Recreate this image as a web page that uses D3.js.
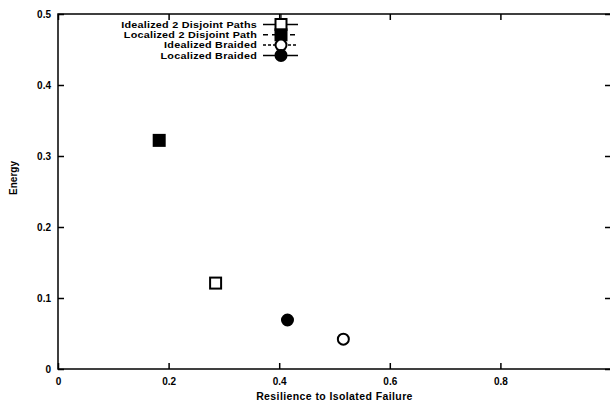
<!DOCTYPE html>
<html>
<head>
<meta charset="utf-8">
<script src="https://cdn.jsdelivr.net/npm/d3@7"></script>
<style>
  body { margin: 0; background: #fff; }
  text { font-family: "Liberation Sans", Arial, sans-serif; font-weight: bold; fill: #000; }
</style>
</head>
<body>
<div id="chart"></div>
<script>
// series, one point each
var seriesNames = ["Idealized 2 Disjoint Paths", "Localized 2 Disjoint Path", "Idealized Braided", "Localized Braided"];
var resilience = [0.285, 0.183, 0.516, 0.415];
var energy = [0.121, 0.322, 0.042, 0.069];
var markerShape = ["square", "square", "circle", "circle"];
var markerFilled = [false, true, false, true];
var lineDash = ["", "5 4", "3 2", ""];

// ticks
var xTicks = [0, 0.2, 0.4, 0.6, 0.8];
var yTicks = [0, 0.1, 0.2, 0.3, 0.4, 0.5];

var width = 610;
var height = 405;
var margin = {left: 58, top: 14, right: -1, bottom: 36};

var svg = d3.select("#chart")
  .append("svg")
    .attr("width", width)
    .attr("height", height);

var x = d3.scaleLinear()
  .domain([0, 1])
  .range([margin.left, width - margin.right]);

var y = d3.scaleLinear()
  .domain([0, 0.5])
  .range([height - margin.bottom, margin.top]);

// frame
svg.append("rect")
  .attr("x", x(0))
  .attr("y", y(0.5))
  .attr("width", x(1) - x(0))
  .attr("height", y(0) - y(0.5))
  .attr("fill", "none")
  .attr("stroke", "#000")
  .attr("stroke-width", 1.5);

// axes with inward ticks, gnuplot style
var xAxis = svg.append("g")
  .attr("transform", "translate(0," + y(0) + ")")
  .call(d3.axisBottom(x).tickValues(xTicks).tickSize(-6).tickPadding(9)
    .tickFormat(function (d) { return d === 0 ? "0" : d3.format(".1f")(d); }));

var yAxis = svg.append("g")
  .attr("transform", "translate(" + x(0) + ",0)")
  .call(d3.axisLeft(y).tickValues(yTicks).tickSize(-6).tickPadding(7)
    .tickFormat(function (d) { return d === 0 ? "0" : d3.format(".1f")(d); }));

var xTop = svg.append("g")
  .attr("transform", "translate(0," + y(0.5) + ")")
  .call(d3.axisTop(x).tickValues(xTicks).tickSize(-6).tickFormat(""));

var yRight = svg.append("g")
  .attr("transform", "translate(" + x(1) + ",0)")
  .call(d3.axisRight(y).tickValues(yTicks).tickSize(-6).tickFormat(""));

[xAxis, yAxis, xTop, yRight].forEach(function (g) {
  g.select(".domain").remove();
  g.selectAll("line").attr("stroke", "#000").attr("stroke-width", 1.5);
  g.selectAll("text")
    .style("font-size", "10px")
    .style("font-family", "'Liberation Sans', Arial, sans-serif")
    .style("font-weight", "bold");
});

// axis labels
svg.append("text")
  .attr("x", (x(0) + x(1)) / 2)
  .attr("y", 400)
  .attr("text-anchor", "middle")
  .style("font-size", "10.5px")
  .style("letter-spacing", "0.4px")
  .text("Resilience to Isolated Failure");

svg.append("text")
  .attr("transform", "translate(17,178) rotate(-90)")
  .attr("text-anchor", "middle")
  .style("font-size", "10px")
  .text("Energy");

function drawMarker(g, i, cx, cy) {
  var fill = markerFilled[i] ? "#000" : "#fff";
  if (markerShape[i] == "square") {
    g.append("rect")
      .attr("x", cx - 5.5)
      .attr("y", cy - 5.5)
      .attr("width", 11)
      .attr("height", 11)
      .attr("fill", fill)
      .attr("stroke", "#000")
      .attr("stroke-width", 2);
  } else {
    g.append("circle")
      .attr("cx", cx)
      .attr("cy", cy)
      .attr("r", 5.5)
      .attr("fill", fill)
      .attr("stroke", "#000")
      .attr("stroke-width", 2);
  }
}

// points
var points = svg.append("g");
seriesNames.forEach(function (name, i) {
  drawMarker(points, i, x(resilience[i]), y(energy[i]));
});

// legend
var legendX = 257;
var legendY = 24.5;
var legendStep = 10.3;
var sampleX = 281;

var legend = svg.append("g");
legend.append("line")
  .attr("x1", sampleX)
  .attr("x2", sampleX)
  .attr("y1", margin.top)
  .attr("y2", legendY + legendStep * 3)
  .attr("stroke", "#000")
  .attr("stroke-width", 1.2);

seriesNames.forEach(function (name, i) {
  var ly = legendY + legendStep * i;
  // squeeze the height, keep the wide look of the original lettering
  legend.append("text")
    .attr("transform", "translate(" + legendX + "," + ly + ") scale(1.2,1)")
    .attr("dy", "0.35em")
    .attr("text-anchor", "end")
    .style("font-size", "9px")
    .style("letter-spacing", "0.2px")
    .text(name);
  legend.append("line")
    .attr("x1", 263)
    .attr("x2", 298)
    .attr("y1", ly)
    .attr("y2", ly)
    .attr("stroke", "#000")
    .attr("stroke-width", 1.5)
    .attr("stroke-dasharray", lineDash[i]);
  drawMarker(legend, i, sampleX, ly);
});
</script>
</body>
</html>
